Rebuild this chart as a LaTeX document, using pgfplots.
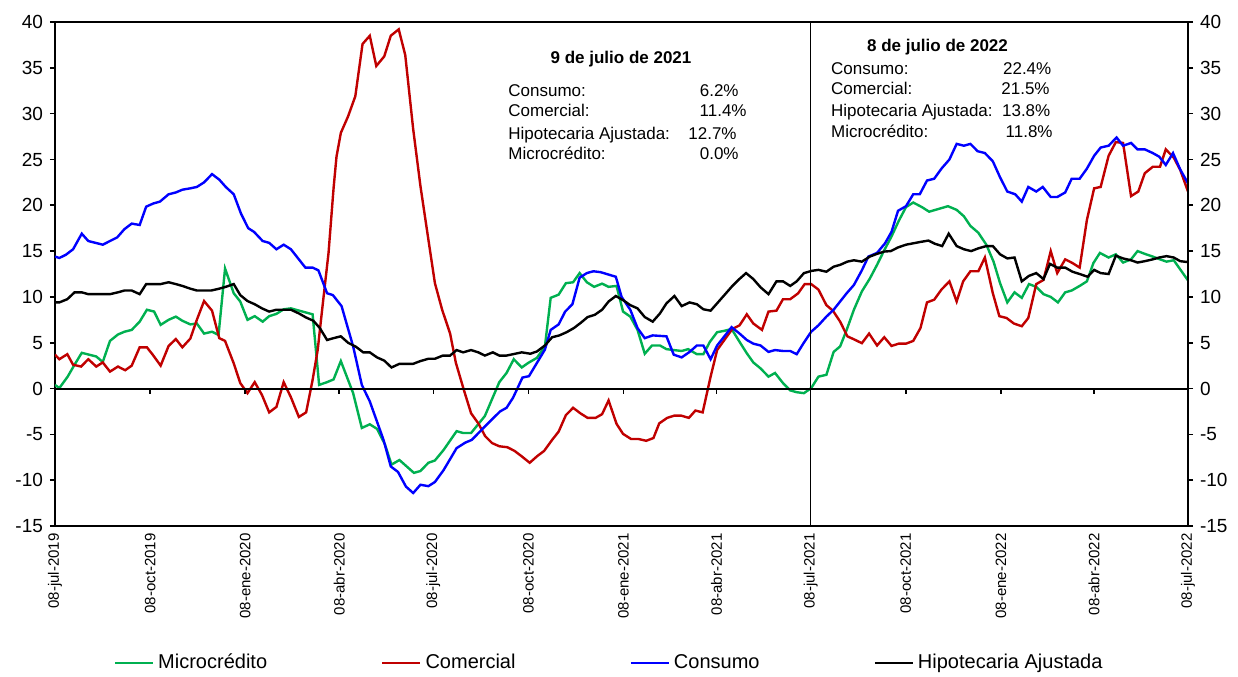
\documentclass[border=0pt]{standalone}
\usepackage{fontspec}
\setmainfont{Liberation Sans}
\usepackage{pgfplots}
\pgfplotsset{compat=1.18}
\definecolor{micro}{HTML}{00B050}
\definecolor{comer}{HTML}{C00000}
\definecolor{consu}{HTML}{0000FF}

% x = weeks since 08-jul-2019
\pgfplotstableread{
w v
0 0.4
0.6 0.05
1.75 1.3
2.7 2.6
3.7 3.9
5.7 3.5
6.6 2.9
7.6 5.2
8.7 5.9
9.6 6.2
10.6 6.4
11.7 7.3
12.7 8.6
13.7 8.4
14.6 6.95
15.7 7.5
16.7 7.85
17.6 7.4
18.7 7.0
19.6 7.1
20.6 6.0
21.7 6.2
22.6 5.85
23.5 13.1
24.7 10.4
25.6 9.5
26.6 7.5
27.6 7.9
28.7 7.3
29.6 7.9
30.6 8.15
31.6 8.65
32.6 8.75
35.6 8.1
36.5 0.4
37.6 0.7
38.5 1.0
39.5 3.0
41.2 -0.5
42.4 -4.3
43.5 -3.9
44.5 -4.4
45.6 -6.1
46.5 -8.3
47.6 -7.8
48.6 -8.5
49.6 -9.2
50.5 -9.0
51.6 -8.1
52.5 -7.85
53.7 -6.7
55.5 -4.65
56.4 -4.85
57.5 -4.85
59.4 -3.0
61.4 0.7
62.4 1.7
63.4 3.2
64.5 2.3
65.4 2.8
66.6 3.35
67.7 4.6
68.5 9.9
69.6 10.25
70.6 11.5
71.6 11.6
72.5 12.6
73.5 11.6
74.5 11.1
75.6 11.45
76.5 11.1
77.6 11.2
78.5 8.4
79.5 7.85
80.5 6.4
81.5 3.8
82.5 4.7
83.6 4.7
84.5 4.3
85.5 4.2
86.6 4.1
87.5 4.3
88.7 3.75
89.6 3.75
90.5 5.1
91.5 6.15
92.5 6.3
93.5 6.5
94.6 5.1
95.6 3.85
96.5 2.85
97.5 2.2
98.6 1.3
99.5 1.7
100.6 0.6
101.6 -0.2
102.5 -0.4
103.5 -0.5
104.5 0.05
105.5 1.3
106.6 1.5
107.6 4.0
108.5 4.6
109.4 6.4
110.4 8.6
111.5 10.6
112.6 12.0
113.6 13.5
114.6 15.1
115.6 16.6
116.6 18.3
117.6 19.8
118.6 20.3
119.8 19.8
120.8 19.3
123.4 19.9
124.6 19.5
125.6 18.8
126.5 17.75
127.6 17.0
128.7 15.7
129.7 13.85
130.6 11.5
131.6 9.4
132.6 10.5
133.6 9.9
134.6 11.4
135.6 11.1
136.6 10.3
137.6 10.0
138.6 9.4
139.6 10.5
140.5 10.7
141.6 11.2
142.6 11.7
143.5 13.7
144.4 14.8
145.6 14.3
146.6 14.65
147.6 13.75
148.7 14.1
149.6 15.0
150.6 14.7
151.7 14.4
152.7 14.1
153.6 13.85
154.6 14.0
155.5 13.0
156.571 11.8
}\micro

\pgfplotstableread{
w v
0 3.7
0.6 3.2
1.7 3.75
2.5 2.6
3.6 2.4
4.6 3.2
5.7 2.4
6.6 2.85
7.6 1.85
8.7 2.4
9.7 2.0
10.6 2.5
11.7 4.5
12.7 4.5
13.5 3.7
14.6 2.5
15.7 4.65
16.7 5.4
17.6 4.5
18.7 5.45
19.6 7.5
20.6 9.55
21.7 8.5
22.7 5.5
23.5 5.2
24.7 2.75
25.6 0.6
26.6 -0.5
27.6 0.7
28.6 -0.7
29.6 -2.6
30.6 -2.0
31.6 0.7
32.6 -0.95
33.7 -3.1
34.7 -2.6
35.6 0.95
36.3 4.2
37.0 9.2
37.8 14.8
38.5 21.9
38.9 25.3
39.5 27.9
40.5 29.7
41.5 31.9
42.5 37.6
43.5 38.5
44.4 35.2
45.5 36.25
46.4 38.5
47.5 39.2
48.4 36.4
49.5 28.3
50.5 22.1
51.6 16.25
52.5 11.5
53.5 8.6
54.6 6.0
55.4 2.8
56.5 -0.15
57.5 -2.7
58.5 -3.8
59.45 -5.2
60.4 -5.95
61.4 -6.3
62.5 -6.4
63.5 -6.8
64.5 -7.4
65.6 -8.1
66.6 -7.4
67.6 -6.8
68.7 -5.6
69.6 -4.7
70.6 -2.9
71.6 -2.1
72.6 -2.7
73.6 -3.2
74.7 -3.2
75.6 -2.8
76.5 -1.3
77.6 -3.85
78.5 -4.95
79.6 -5.5
80.6 -5.5
81.7 -5.7
82.7 -5.4
83.5 -3.8
84.6 -3.2
85.6 -2.95
86.5 -2.95
87.6 -3.2
88.5 -2.4
89.5 -2.6
90.6 1.3
91.5 4.2
92.5 5.3
93.6 6.5
94.6 6.9
95.6 8.1
96.5 7.1
97.7 6.4
98.6 8.4
99.7 8.5
100.6 9.75
101.6 9.75
102.7 10.4
103.6 11.4
104.5 11.4
105.5 10.8
106.6 9.1
107.5 8.5
108.5 7.3
109.5 5.7
110.6 5.3
111.5 4.95
112.5 6.0
113.6 4.7
114.6 5.6
115.6 4.65
116.6 4.9
117.6 4.9
118.6 5.2
119.6 6.6
120.5 9.4
121.5 9.7
122.5 10.8
123.6 11.7
124.6 9.5
125.5 11.7
126.5 12.8
127.6 12.8
128.5 14.3
129.6 10.4
130.5 7.9
131.5 7.7
132.5 7.1
133.6 6.8
134.5 7.7
135.6 11.4
136.6 11.85
137.6 15.0
138.5 12.6
139.6 14.1
140.6 13.7
141.6 13.2
142.6 18.4
143.6 21.85
144.5 22.0
145.6 25.4
146.6 26.9
147.6 26.8
148.7 21.0
149.7 21.5
150.6 23.5
151.7 24.2
152.7 24.2
153.5 26.1
154.6 25.2
155.5 23.85
156.571 21.5
}\comer

\pgfplotstableread{
w v
0 14.4
0.6 14.25
1.5 14.6
2.5 15.2
3.7 16.9
4.6 16.1
6.6 15.7
8.6 16.5
9.6 17.4
10.6 18.0
11.7 17.85
12.6 19.85
13.6 20.2
14.5 20.4
15.7 21.2
16.7 21.4
17.6 21.7
18.7 21.85
19.6 22.0
20.6 22.5
21.7 23.4
22.7 22.8
23.6 22.0
24.7 21.2
25.7 19.1
26.7 17.5
27.5 17.1
28.7 16.1
29.6 15.9
30.6 15.2
31.6 15.7
32.6 15.2
33.6 14.2
34.6 13.2
35.6 13.2
36.4 12.9
37.6 10.4
38.4 10.2
39.6 9.0
41.2 4.6
42.4 0.4
43.5 -1.4
45.4 -5.6
46.4 -8.5
47.4 -9.1
48.5 -10.7
49.5 -11.4
50.5 -10.5
51.6 -10.65
52.5 -10.2
53.7 -8.9
55.5 -6.5
56.7 -5.9
57.6 -5.6
59.7 -3.9
61.5 -2.5
62.4 -2.1
63.3 -1.0
64.6 1.2
65.5 1.35
66.6 2.8
67.7 4.25
68.5 6.4
69.6 7.0
70.5 8.4
71.5 9.2
72.5 12.1
73.5 12.6
74.4 12.8
75.4 12.7
77.5 12.2
78.3 10.0
79.5 8.6
80.5 6.6
81.5 5.5
82.6 5.8
84.5 5.7
85.5 3.7
86.6 3.4
87.7 4.0
88.7 4.7
89.6 4.7
90.6 3.2
91.5 4.7
92.5 5.7
93.5 6.7
94.6 6.0
95.6 5.3
96.5 4.9
97.5 4.7
98.6 4.0
99.5 4.2
100.6 4.1
101.6 4.1
102.5 3.75
103.4 4.9
104.5 6.2
105.5 6.9
106.6 7.85
107.6 8.6
108.5 9.5
109.4 10.4
110.4 11.3
111.5 12.9
112.4 14.4
113.6 14.8
114.7 15.85
115.6 17.1
116.5 19.4
117.6 19.9
118.6 21.2
119.5 21.2
120.5 22.7
121.5 22.9
122.5 24.0
123.6 25.0
124.6 26.7
125.6 26.5
126.5 26.7
127.5 25.9
128.5 25.7
129.6 24.8
130.6 23.05
131.6 21.5
132.7 21.2
133.6 20.4
134.5 22.0
135.6 21.5
136.5 22.0
137.6 20.9
138.5 20.9
139.6 21.4
140.5 22.9
141.6 22.9
142.6 24.0
143.6 25.4
144.5 26.3
145.6 26.5
146.7 27.4
147.6 26.5
148.7 26.8
149.6 26.1
150.6 26.1
151.7 25.7
152.6 25.3
153.5 24.4
154.5 25.7
155.5 23.9
156.571 22.4
}\consu

\pgfplotstableread{
w v
0 9.4
0.6 9.4
1.7 9.75
2.7 10.5
3.7 10.5
4.6 10.3
7.6 10.3
8.7 10.5
9.6 10.7
10.6 10.7
11.7 10.3
12.6 11.4
14.6 11.4
15.7 11.6
16.7 11.4
17.6 11.2
18.7 10.9
19.6 10.7
21.6 10.7
22.7 10.9
23.6 11.1
24.7 11.4
25.6 10.2
26.6 9.55
27.6 9.2
28.6 8.75
29.6 8.4
30.6 8.6
32.6 8.6
33.7 8.2
34.7 7.75
35.7 7.4
36.6 6.6
37.6 5.3
38.5 5.5
39.5 5.7
40.5 5.0
41.6 4.55
42.6 3.95
43.5 3.95
44.5 3.4
45.5 3.05
46.5 2.3
47.6 2.7
49.5 2.7
50.5 3.0
51.6 3.25
52.5 3.25
53.6 3.6
54.6 3.6
55.5 4.2
56.4 3.95
57.5 4.2
58.5 3.95
59.4 3.6
60.5 3.95
61.4 3.6
62.4 3.6
63.6 3.8
64.5 3.95
65.7 3.8
66.6 4.05
67.7 4.7
68.7 5.6
69.7 5.8
70.7 6.15
71.7 6.6
72.7 7.2
73.6 7.8
74.6 8.05
75.6 8.6
76.5 9.5
77.5 10.1
78.6 9.6
79.5 9.1
80.5 8.75
81.5 7.8
82.6 7.3
83.6 8.2
84.5 9.3
85.6 10.1
86.6 9.0
87.7 9.4
88.7 9.2
89.6 8.65
90.6 8.5
91.5 9.3
92.5 10.2
93.5 11.1
94.5 11.9
95.5 12.6
96.5 11.95
97.5 11.05
98.6 10.3
99.7 11.7
100.6 11.7
101.6 11.2
102.5 11.7
103.5 12.6
104.6 12.85
105.5 12.95
106.6 12.75
107.6 13.3
108.5 13.5
109.5 13.85
110.4 14.0
111.5 13.85
112.6 14.4
113.6 14.7
114.6 14.95
115.5 15.0
116.5 15.4
117.6 15.7
118.6 15.85
119.6 16.0
120.7 16.15
121.6 15.8
122.6 15.55
123.5 16.9
124.6 15.55
125.6 15.2
126.6 15.0
127.6 15.3
128.7 15.55
129.6 15.55
130.6 14.65
131.6 14.2
132.6 14.3
133.6 11.7
134.6 12.3
135.6 12.6
136.6 11.95
137.5 13.6
138.5 13.2
139.6 13.2
140.6 12.75
141.6 12.5
142.7 12.2
143.6 12.95
144.5 12.6
145.6 12.5
146.6 14.5
147.6 14.2
148.7 14.0
149.6 13.75
150.6 13.9
151.7 14.1
152.6 14.3
153.6 14.45
154.6 14.3
155.5 13.9
156.571 13.8
}\hipot

\pgfplotsset{
  common/.style={
    at={(0pt,0pt)}, anchor=south west, scale only axis,
    width=566.5pt, height=252pt,
    xmin=0, xmax=156.571, ymin=-15, ymax=40,
    xtick={0,13.143,26.286,39.286,52.286,65.429,78.571,91.429,104.429,117.571,130.714,143.571,156.571},
    ytick={-15,-10,...,40},
    tick align=outside, major tick length=2.5pt,
    every tick/.style={black, line width=0.8pt},
    /pgf/number format/assume math mode=true,
    yticklabel style={font=\fontsize{9.5}{11}\selectfont},
  },
}

\newcommand{\ann}{\fontsize{8.5}{10}\selectfont}

\begin{document}
\begin{tikzpicture}
\begin{axis}[common,
    axis line style={line width=1pt},
    ytick pos=left,
    xtick style={draw=none},
    xticklabels={08-jul-2019,08-oct-2019,08-ene-2020,08-abr-2020,08-jul-2020,08-oct-2020,08-ene-2021,08-abr-2021,08-jul-2021,08-oct-2021,08-ene-2022,08-abr-2022,08-jul-2022},
    xticklabel style={rotate=90, anchor=east, inner sep=1pt, font=\fontsize{7.5}{8}\selectfont},
    legend columns=4,
    legend style={at={(0.49,-0.272)}, anchor=center, draw=none, fill=none,
      font=\fontsize{10}{12}\selectfont,
      /tikz/every even column/.append style={column sep=55pt}},
    legend image code/.code={\draw[#1] (0pt,0pt) -- (19pt,0pt);},
]
\addplot[micro, line width=1.2pt] table[x=w, y=v] {\micro};
\addlegendentry{Microcrédito}
\addplot[comer, line width=1.2pt] table[x=w, y=v] {\comer};
\addlegendentry{Comercial}
\addplot[consu, line width=1.2pt] table[x=w, y=v] {\consu};
\addlegendentry{Consumo}
\addplot[black, line width=1.2pt] table[x=w, y=v] {\hipot};
\addlegendentry{Hipotecaria Ajustada}
\addplot[black, line width=0.7pt, forget plot] coordinates {(104.429,-15) (104.429,40)};
\end{axis}

\begin{axis}[common,
    axis x line*=middle, axis y line*=right,
    axis line style={-, line width=1pt},
    xticklabels={},
]
\end{axis}

% annotation boxes
\node[anchor=base, inner sep=0pt, font=\bfseries\ann] at (283pt,231pt) {9 de julio de 2021};
\node[anchor=base west, inner sep=0pt, font=\ann] at (226.5pt,214.75pt) {Consumo:};
\node[anchor=base west, inner sep=0pt, font=\ann] at (226.5pt,204.75pt) {Comercial:};
\node[anchor=base west, inner sep=0pt, font=\ann] at (226.5pt,193.25pt) {Hipotecaria Ajustada:};
\node[anchor=base west, inner sep=0pt, font=\ann] at (226.5pt,183pt) {Microcrédito:};
\node[anchor=base east, inner sep=0pt, font=\ann] at (342pt,214.75pt) {6.2\%};
\node[anchor=base east, inner sep=0pt, font=\ann] at (346pt,204.75pt) {11.4\%};
\node[anchor=base east, inner sep=0pt, font=\ann] at (341pt,193.25pt) {12.7\%};
\node[anchor=base east, inner sep=0pt, font=\ann] at (342pt,183pt) {0.0\%};

\node[anchor=base, inner sep=0pt, font=\bfseries\ann] at (441.25pt,237pt) {8 de julio de 2022};
\node[anchor=base west, inner sep=0pt, font=\ann] at (387.85pt,225.5pt) {Consumo:};
\node[anchor=base west, inner sep=0pt, font=\ann] at (387.85pt,215.5pt) {Comercial:};
\node[anchor=base west, inner sep=0pt, font=\ann] at (387.85pt,204.5pt) {Hipotecaria Ajustada:};
\node[anchor=base west, inner sep=0pt, font=\ann] at (387.85pt,194pt) {Microcrédito:};
\node[anchor=base east, inner sep=0pt, font=\ann] at (498.35pt,225.5pt) {22.4\%};
\node[anchor=base east, inner sep=0pt, font=\ann] at (497.5pt,215.5pt) {21.5\%};
\node[anchor=base east, inner sep=0pt, font=\ann] at (497.85pt,204.5pt) {13.8\%};
\node[anchor=base east, inner sep=0pt, font=\ann] at (499pt,194pt) {11.8\%};

\pgfresetboundingbox
\path[use as bounding box] (-27.5pt,-75pt) rectangle (591.5pt,263pt);
\end{tikzpicture}
\end{document}
